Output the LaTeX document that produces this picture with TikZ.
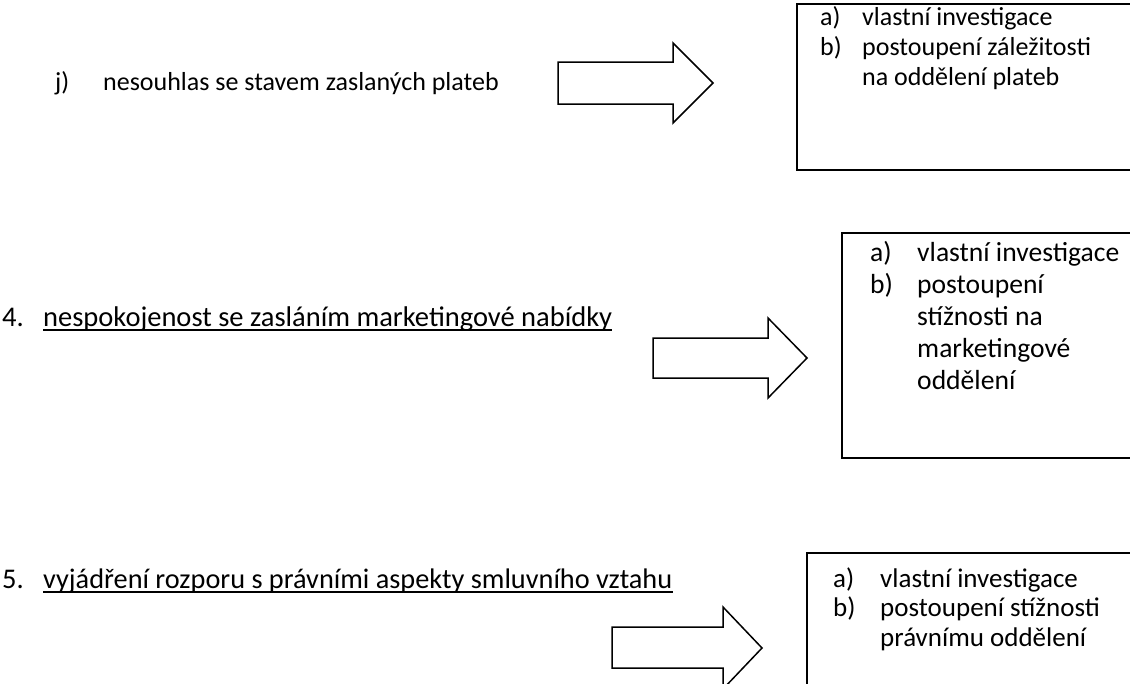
\documentclass[tikz,border=0pt]{standalone}
\usepackage{fontspec}
\setmainfont{Carlito}
\usetikzlibrary{calc}
\tikzset{
  txt/.style={anchor=base west, inner sep=0pt, font=\fontsize{28.5}{33}\selectfont},
  txtA/.style={txt, font=\fontsize{26}{30}\selectfont},
  txtB/.style={txt, font=\fontsize{27.6}{32}\selectfont},
  txtC/.style={txt, font=\fontsize{27}{31}\selectfont},
  shapeline/.style={draw=black, line width=1.5pt, line join=miter},
  uline/.style={line width=1.5pt}
}
\begin{document}
\begin{tikzpicture}[x=1pt,y=-1pt]
\useasboundingbox (0,0) rectangle (1130,683);
% row 1
\node[txtA] (j) at (55,90) {j)};
\node[txtA] (t1) at (103,90) {nesouhlas se stavem zaslaných plateb};
\draw[shapeline] (558,62) -- (673,62) -- (673,43) -- (713,83) -- (673,123) -- (673,104) -- (558,104) -- cycle;
\draw[shapeline] (1130,4) -- (797,4) -- (797,170) -- (1130,170);
\node[txtA] (b1a) at (820,25) {a)};
\node[txtA] (b1at) at (862,25) {vlastní investigace};
\node[txtA] (b1b) at (820,55) {b)};
\node[txtA] (b1bt) at (862,55) {postoupení záležitosti};
\node[txtA] (b1c) at (862,85) {na oddělení plateb};
% row 2
\node[txt] (n4) at (2,326) {4.};
\node[txt] (t4) at (43,326) {nespokojenost se zasláním marketingové nabídky};
\draw[uline] ($(t4.base west)+(0,4)$) -- ($(t4.base east)+(0,4)$);
\draw[shapeline] (653,338) -- (768,338) -- (768,318) -- (807,358) -- (768,398) -- (768,378) -- (653,378) -- cycle;
\draw[shapeline] (1130,233) -- (842,233) -- (842,458) -- (1130,458);
\node[txtB] (b2a) at (870,261) {a)};
\node[txtB] (b2at) at (917,261) {vlastní investigace};
\node[txtB] (b2b) at (870,293) {b)};
\node[txtB] (b2bt) at (917,293) {postoupení};
\node[txtB] (b2c) at (917,325) {stížnosti na};
\node[txtB] (b2d) at (917,357) {marketingové};
\node[txtB] (b2e) at (917,389) {oddělení};
% row 3
\node[txt] (n5) at (2,588) {5.};
\node[txt, font=\fontsize{28.3}{33}\selectfont] (t5) at (43,588) {vyjádření rozporu s právními aspekty smluvního vztahu};
\draw[uline] ($(t5.base west)+(0,4)$) -- ($(t5.base east)+(0,4)$);
\draw[shapeline] (612,627) -- (723,627) -- (723,607) -- (762,648) -- (723,689) -- (723,668) -- (612,668) -- cycle;
\draw[shapeline] (1130,553) -- (807,553) -- (807,690);
\node[txtC] (b3a) at (833,587) {a)};
\node[txtC] (b3at) at (880,587) {vlastní investigace};
\node[txtC] (b3b) at (833,616) {b)};
\node[txtC] (b3bt) at (880,616) {postoupení stížnosti};
\node[txtC] (b3c) at (880,646) {právnímu oddělení};
\end{tikzpicture}
\end{document}
